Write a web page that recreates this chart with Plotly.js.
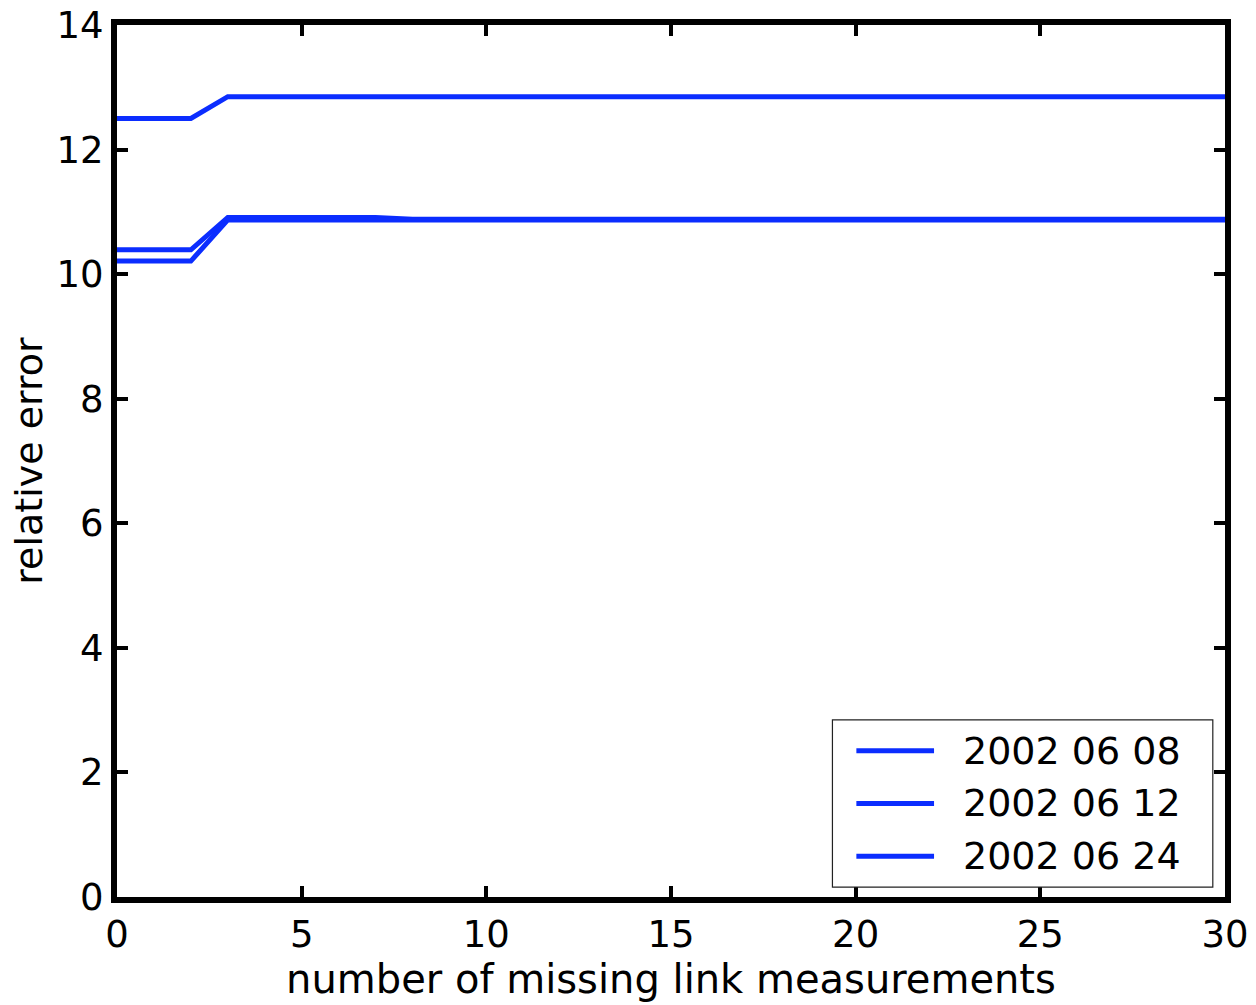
<!DOCTYPE html>
<html>
<head>
<meta charset="utf-8">
<script src="https://cdn.plot.ly/plotly-3.0.1.min.js"></script>
<style>
  html, body { margin: 0; padding: 0; background: #fff; }
  #chart { width: 1256px; height: 1005px; }
</style>
</head>
<body>
<div id="chart"></div>
<script>
// number of missing link measurements
const missingLinks = [0, 1, 2, 3, 4, 5, 6, 7, 8, 9, 10, 11, 12, 13, 14, 15,
  16, 17, 18, 19, 20, 21, 22, 23, 24, 25, 26, 27, 28, 29, 30];

// relative error per day
const err20020608 = [12.5, 12.5, 12.5, 12.85, 12.85, 12.85, 12.85, 12.85, 12.85, 12.85,
  12.85, 12.85, 12.85, 12.85, 12.85, 12.85, 12.85, 12.85, 12.85, 12.85, 12.85,
  12.85, 12.85, 12.85, 12.85, 12.85, 12.85, 12.85, 12.85, 12.85, 12.85];
const err20020612 = [10.39, 10.39, 10.39, 10.91, 10.91, 10.91, 10.91, 10.91, 10.88, 10.88,
  10.88, 10.88, 10.88, 10.88, 10.88, 10.88, 10.88, 10.88, 10.88, 10.88, 10.88,
  10.88, 10.88, 10.88, 10.88, 10.88, 10.88, 10.88, 10.88, 10.88, 10.88];
const err20020624 = [10.21, 10.21, 10.21, 10.87, 10.87, 10.87, 10.87, 10.87, 10.87, 10.87,
  10.87, 10.87, 10.87, 10.87, 10.87, 10.87, 10.87, 10.87, 10.87, 10.87, 10.87,
  10.87, 10.87, 10.87, 10.87, 10.87, 10.87, 10.87, 10.87, 10.87, 10.87];

const seriesNames = ['2002 06 08', '2002 06 12', '2002 06 24'];
const seriesValues = [err20020608, err20020612, err20020624];

const xTicks = [0, 5, 10, 15, 20, 25, 30];
const yTicks = [0, 2, 4, 6, 8, 10, 12, 14];

const lineColor = '#0b2dff';
const fontFamily = '"DejaVu Sans", "Liberation Sans", Arial, sans-serif';

const traces = seriesValues.map((vals, i) => ({
  type: 'scatter',
  mode: 'lines',
  x: missingLinks,
  y: vals,
  name: seriesNames[i],
  line: { color: lineColor, width: 5 },
  showlegend: false,
  hoverinfo: 'x+y+name'
}));

// hand-built legend box in the lower right of the plot area
const legendBox = { x0: 0.6457, x1: 0.989, y0: 0.0114, y1: 0.2032 };
const legendRows = [0.1678, 0.1073, 0.0468];
const shapes = [{
  type: 'rect', xref: 'paper', yref: 'paper',
  x0: legendBox.x0, x1: legendBox.x1, y0: legendBox.y0, y1: legendBox.y1,
  line: { color: '#222', width: 1.2 }, fillcolor: '#fff', layer: 'above'
}];
const annotations = [];
seriesNames.forEach((name, i) => {
  shapes.push({
    type: 'line', xref: 'paper', yref: 'paper',
    x0: 0.6673, x1: 0.7374, y0: legendRows[i], y1: legendRows[i],
    line: { color: lineColor, width: 5 }, layer: 'above'
  });
  annotations.push({
    xref: 'paper', yref: 'paper', x: 0.7617, y: legendRows[i],
    xanchor: 'left', yanchor: 'middle', showarrow: false,
    text: name, font: { family: fontFamily, size: 38, color: '#000' }
  });
});

const axisCommon = {
  showline: true, linecolor: '#000', linewidth: 6, mirror: 'ticks',
  ticks: 'inside', ticklen: 11, tickwidth: 4, tickcolor: '#000',
  showgrid: false, zeroline: false,
  tickfont: { family: fontFamily, size: 37, color: '#000' },
  automargin: false
};

const layout = {
  width: 1256, height: 1005,
  margin: { l: 117, r: 31, t: 25, b: 108, pad: 0 },
  paper_bgcolor: '#fff', plot_bgcolor: '#fff',
  showlegend: false,
  xaxis: Object.assign({}, axisCommon, {
    range: [0, 30], tickmode: 'array', tickvals: xTicks, ticktext: xTicks.map(String),
    title: { text: 'number of missing link measurements', standoff: 1,
      font: { family: fontFamily, size: 40, color: '#000' } }
  }),
  yaxis: Object.assign({}, axisCommon, {
    range: [0, 14], tickmode: 'array', tickvals: yTicks, ticktext: yTicks.map(String),
    title: { text: 'relative error', standoff: 4,
      font: { family: fontFamily, size: 38, color: '#000' } }
  }),
  shapes: shapes,
  annotations: annotations
};

Plotly.newPlot('chart', traces, layout, { displayModeBar: false, staticPlot: true });
</script>
</body>
</html>
